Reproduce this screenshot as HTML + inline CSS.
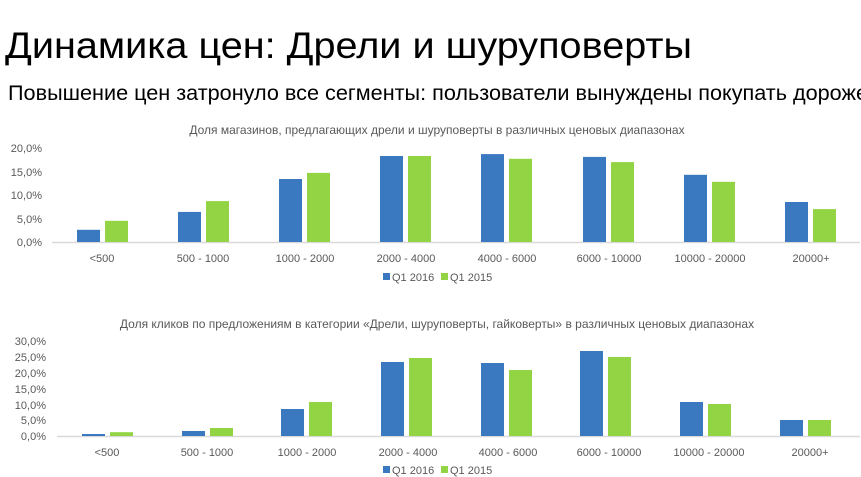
<!DOCTYPE html>
<html><head><meta charset="utf-8"><style>
html,body{margin:0;padding:0;background:#fff;width:861px;height:477px;overflow:hidden}
svg{display:block}
text{font-family:"Liberation Sans","DejaVu Sans",sans-serif}
.t{font-size:11px;fill:#595959}
.ct{font-size:12px;fill:#595959}
.b{fill:#3a78c0}.g{fill:#92d444}
</style></head><body>
<svg width="861" height="477" viewBox="0 0 861 477">
<text x="5" y="58" font-size="37" fill="#000" textLength="687" lengthAdjust="spacingAndGlyphs">Динамика цен: Дрели и шуруповерты</text>
<text x="8" y="100" font-size="21" fill="#000" textLength="860" lengthAdjust="spacingAndGlyphs">Повышение цен затронуло все сегменты: пользователи вынуждены покупать дороже</text>

<!-- Chart 1 -->
<text class="ct" x="437" y="134" text-anchor="middle">Доля магазинов, предлагающих дрели и шуруповерты в различных ценовых диапазонах</text>
<g class="t" text-anchor="end">
<text x="42" y="152">20,0%</text><text x="42" y="176">15,0%</text><text x="42" y="199">10,0%</text><text x="42" y="223">5,0%</text><text x="42" y="246">0,0%</text>
</g>
<line x1="52" y1="242.5" x2="860" y2="242.5" stroke="#d9d9d9" stroke-width="1.5"/>
<rect class="b" x="77" y="229.8" width="23" height="12.2"/><rect class="g" x="105" y="220.8" width="23" height="21.2"/>
<rect class="b" x="178" y="211.9" width="23" height="30.1"/><rect class="g" x="206" y="201.1" width="23" height="40.9"/>
<rect class="b" x="279" y="179" width="23" height="63"/><rect class="g" x="307" y="172.9" width="23" height="69.1"/>
<rect class="b" x="380" y="156" width="23" height="86"/><rect class="g" x="408" y="156" width="23" height="86"/>
<rect class="b" x="481" y="154.1" width="23" height="87.9"/><rect class="g" x="509" y="158.8" width="23" height="83.2"/>
<rect class="b" x="583" y="156.9" width="23" height="85.1"/><rect class="g" x="611" y="162.1" width="23" height="79.9"/>
<rect class="b" x="684" y="174.8" width="23" height="67.2"/><rect class="g" x="712" y="181.8" width="23" height="60.2"/>
<rect class="b" x="785" y="202" width="23" height="40"/><rect class="g" x="813" y="209.1" width="23" height="32.9"/>
<g class="t" text-anchor="middle">
<text x="102" y="262">&lt;500</text><text x="203" y="262">500 - 1000</text><text x="305" y="262">1000 - 2000</text><text x="406" y="262">2000 - 4000</text>
<text x="507" y="262">4000 - 6000</text><text x="609" y="262">6000 - 10000</text><text x="710" y="262">10000 - 20000</text><text x="811" y="262">20000+</text>
</g>
<rect class="b" x="383" y="273" width="7" height="7"/><text class="t" x="392" y="281">Q1 2016</text>
<rect class="g" x="441" y="273" width="7" height="7"/><text class="t" x="450" y="281">Q1 2015</text>

<!-- Chart 2 -->
<text class="ct" x="437" y="328" text-anchor="middle">Доля кликов по предложениям в категории «Дрели, шуруповерты, гайковерты» в различных ценовых диапазонах</text>
<g class="t" text-anchor="end">
<text x="46" y="345">30,0%</text><text x="46" y="361">25,0%</text><text x="46" y="377">20,0%</text><text x="46" y="393">15,0%</text><text x="46" y="409">10,0%</text><text x="46" y="424">5,0%</text><text x="46" y="440">0,0%</text>
</g>
<line x1="57" y1="436.5" x2="860" y2="436.5" stroke="#d9d9d9" stroke-width="1.5"/>
<rect class="b" x="82" y="434" width="23" height="2"/><rect class="g" x="110" y="432.2" width="23" height="3.8"/>
<rect class="b" x="182" y="431" width="23" height="5"/><rect class="g" x="210" y="428" width="23" height="8"/>
<rect class="b" x="281" y="409" width="23" height="27"/><rect class="g" x="309" y="402" width="23" height="34"/>
<rect class="b" x="381" y="362" width="23" height="74"/><rect class="g" x="409" y="358" width="23" height="78"/>
<rect class="b" x="481" y="363" width="23" height="73"/><rect class="g" x="509" y="370" width="23" height="66"/>
<rect class="b" x="580" y="351" width="23" height="85"/><rect class="g" x="608" y="357" width="23" height="79"/>
<rect class="b" x="680" y="402" width="23" height="34"/><rect class="g" x="708" y="404" width="23" height="32"/>
<rect class="b" x="780" y="420" width="23" height="16"/><rect class="g" x="808" y="420" width="23" height="16"/>
<g class="t" text-anchor="middle">
<text x="107" y="456">&lt;500</text><text x="207" y="456">500 - 1000</text><text x="307" y="456">1000 - 2000</text><text x="408" y="456">2000 - 4000</text>
<text x="508" y="456">4000 - 6000</text><text x="609" y="456">6000 - 10000</text><text x="709" y="456">10000 - 20000</text><text x="810" y="456">20000+</text>
</g>
<rect class="b" x="383" y="466" width="7" height="7"/><text class="t" x="392" y="474">Q1 2016</text>
<rect class="g" x="441" y="466" width="7" height="7"/><text class="t" x="450" y="474">Q1 2015</text>
</svg>
</body></html>
